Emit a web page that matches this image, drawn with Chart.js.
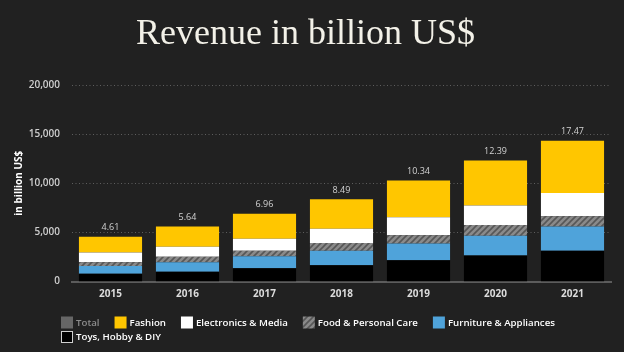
<!DOCTYPE html>
<html>
<head>
<meta charset="utf-8">
<title>Revenue in billion US$</title>
<script src="https://cdn.jsdelivr.net/npm/chart.js@4.4.1/dist/chart.umd.min.js"></script>
<style>
    html, body { margin: 0; padding: 0; background: #212121; }
    #wrap { width: 624px; height: 352px; }
</style>
</head>
<body>
<div id="wrap"><canvas id="revenueChart" width="624" height="352"></canvas></div>
<script>
var years = ["2015", "2016", "2017", "2018", "2019", "2020", "2021"];
var totalLabels = ["4.61", "5.64", "6.96", "8.49", "10.34", "12.39", "17.47"];

var toys = [800, 1000, 1350, 1660, 2170, 2640, 3130];
var furniture = [790, 970, 1230, 1470, 1700, 2020, 2460];
var food = [380, 540, 550, 780, 830, 1100, 1050];
var electronics = [980, 1030, 1230, 1470, 1840, 1980, 2360];
var fashion = [1610, 2050, 2530, 3000, 3730, 4580, 5330];

var yTicks = [0, 5000, 10000, 15000, 20000];

function hatch() {
    var c = document.createElement("canvas");
    c.width = 6;
    c.height = 6;
    var g = c.getContext("2d");
    g.fillStyle = "#8a8a8a";
    g.fillRect(0, 0, 6, 6);
    g.strokeStyle = "#575757";
    g.lineWidth = 1.6;
    g.beginPath();
    g.moveTo(0, 6); g.lineTo(6, 0);
    g.moveTo(-3, 3); g.lineTo(3, -3);
    g.moveTo(3, 9); g.lineTo(9, 3);
    g.stroke();
    return g.createPattern(c, "repeat");
}

document.addEventListener("DOMContentLoaded", function () {
    var ctx = document.getElementById("revenueChart").getContext("2d");
    var foodFill = hatch();

    var legendItems = [
        { text: "Total", fill: "#666666", color: "#8c8c8c" },
        { text: "Fashion", fill: "#ffc600", color: "#ffffff" },
        { text: "Electronics & Media", fill: "#ffffff", color: "#ffffff" },
        { text: "Food & Personal Care", fill: foodFill, color: "#ffffff" },
        { text: "Furniture & Appliances", fill: "#4fa3da", color: "#ffffff" },
        { text: "Toys, Hobby & DIY", fill: "#000000", color: "#ffffff", border: "#d0d0d0" }
    ];

    // dotted grid lines at the y ticks
    var dottedGrid = {
        id: "dottedGrid",
        beforeDatasetsDraw: function (chart) {
            var c = chart.ctx;
            var area = chart.chartArea;
            var y = chart.scales.y;
            c.save();
            c.strokeStyle = "#5e5e5e";
            c.lineWidth = 1;
            c.setLineDash([1, 2.5]);
            yTicks.forEach(function (v) {
                if (v === 0) return;
                var py = Math.round(y.getPixelForValue(v)) + 0.5;
                c.beginPath();
                c.moveTo(area.left, py);
                c.lineTo(area.right, py);
                c.stroke();
            });
            c.restore();
        }
    };

    // totals above each stack
    var totalsPlugin = {
        id: "totals",
        afterDatasetsDraw: function (chart) {
            var c = chart.ctx;
            var meta = chart.getDatasetMeta(chart.data.datasets.length - 1);
            c.save();
            c.font = "9px 'Open Sans'";
            c.fillStyle = "#d2d2d2";
            c.textAlign = "center";
            c.textBaseline = "middle";
            meta.data.forEach(function (bar, i) {
                c.fillText(totalLabels[i], bar.x, bar.y - 9);
            });
            c.restore();
        }
    };

    // legend drawn in rows, left aligned
    var legendPlugin = {
        id: "rowLegend",
        afterDraw: function (chart) {
            var c = chart.ctx;
            var x = 61, y = 322.5, box = 12;
            c.save();
            c.font = "600 9.7px 'Open Sans'";
            c.textBaseline = "middle";
            c.textAlign = "left";
            legendItems.forEach(function (item) {
                var w = box + 3 + c.measureText(item.text).width;
                if (x > 61 && x + w > chart.width - 20) {
                    x = 61;
                    y += 14.5;
                }
                c.fillStyle = item.fill;
                c.fillRect(x, y - box / 2, box, box);
                if (item.border) {
                    c.strokeStyle = item.border;
                    c.lineWidth = 1;
                    c.strokeRect(x + 0.5, y - box / 2 + 0.5, box - 1, box - 1);
                }
                c.fillStyle = item.color;
                c.fillText(item.text, x + box + 3, y + 0.5);
                x += w + 15;
            });
            c.restore();
        }
    };

    new Chart(ctx, {
        type: "bar",
        data: {
            labels: years,
            datasets: [
                { label: "Toys, Hobby & DIY", data: toys, backgroundColor: "#000000" },
                { label: "Furniture & Appliances", data: furniture, backgroundColor: "#4fa3da" },
                { label: "Food & Personal Care", data: food, backgroundColor: foodFill },
                { label: "Electronics & Media", data: electronics, backgroundColor: "#ffffff" },
                { label: "Fashion", data: fashion, backgroundColor: "#ffc600" }
            ]
        },
        options: {
            responsive: false,
            animation: false,
            devicePixelRatio: 1,
            barPercentage: 0.82,
            categoryPercentage: 1,
            layout: { padding: { left: 0, right: 13, top: 0, bottom: 44.5 } },
            plugins: {
                legend: { display: false },
                tooltip: { enabled: false },
                title: {
                    display: true,
                    text: "Revenue in billion US$",
                    color: "#f3f1e8",
                    font: { family: "'Liberation Serif', serif", size: 36, weight: "normal" },
                    padding: { top: 13, bottom: 28.8 }
                }
            },
            scales: {
                x: {
                    stacked: true,
                    grid: { display: false, drawTicks: false },
                    border: { display: true, color: "#5c5c5c", width: 2 },
                    ticks: {
                        color: "#dcdcdc",
                        padding: 7,
                        font: { family: "'Open Sans'", size: 10, weight: "bold" }
                    }
                },
                y: {
                    stacked: true,
                    min: 0,
                    max: 20000,
                    afterFit: function (scale) { scale.width = 72; },
                    afterBuildTicks: function (scale) {
                        scale.ticks = yTicks.map(function (v) { return { value: v }; });
                    },
                    grid: { display: false, drawTicks: false },
                    border: { display: false },
                    ticks: {
                        color: "#cfcfcf",
                        padding: 12,
                        font: { family: "'Open Sans'", size: 10, weight: "600" },
                        callback: function (v) { return v.toLocaleString("en-US"); }
                    },
                    title: {
                        display: true,
                        text: "in billion US$",
                        color: "#ffffff",
                        padding: { top: 13, bottom: 0 },
                        font: { family: "'Open Sans'", size: 10, weight: "bold" }
                    }
                }
            }
        },
        plugins: [dottedGrid, totalsPlugin, legendPlugin]
    });
});
</script>
</body>
</html>
